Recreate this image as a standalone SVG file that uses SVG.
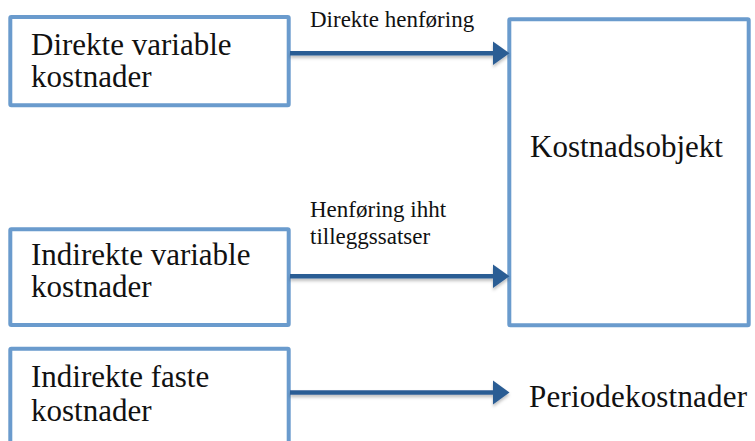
<svg xmlns="http://www.w3.org/2000/svg" width="755" height="441" viewBox="0 0 755 441">
  <style>
    .box { fill: #ffffff; stroke: #6a9bcd; stroke-width: 4; }
    .big { font-family: "Liberation Serif", "DejaVu Serif", serif; font-size: 31px; fill: #111111; }
    .small { font-family: "Liberation Serif", "DejaVu Serif", serif; font-size: 23px; fill: #111111; }
    .link { stroke: #2c5d94; stroke-width: 4.5; fill: none; }
    .head { fill: #2c5d94; }
  </style>
  <defs>
    <filter id="soft" x="-5%" y="-50%" width="110%" height="200%">
      <feDropShadow dx="0" dy="2.5" stdDeviation="1.5" flood-color="#000000" flood-opacity="0.25"/>
    </filter>
  </defs>
  <rect width="755" height="441" fill="#ffffff"/>

  <g id="direkte-variable">
    <rect class="box" x="10.3" y="17" width="278.4" height="88.3" rx="1"/>
    <text class="big" x="31" y="54.5">Direkte variable</text>
    <text class="big" x="31" y="86.5">kostnader</text>
  </g>

  <g id="indirekte-variable">
    <rect class="box" x="10.3" y="229.3" width="278.4" height="95.7" rx="1"/>
    <text class="big" x="31" y="265">Indirekte variable</text>
    <text class="big" x="31" y="297">kostnader</text>
  </g>

  <g id="indirekte-faste">
    <rect class="box" x="10.3" y="348.7" width="278.4" height="120" rx="1"/>
    <text class="big" x="31" y="387">Indirekte faste</text>
    <text class="big" x="31" y="421">kostnader</text>
  </g>

  <g id="kostnadsobjekt">
    <rect class="box" x="509.3" y="19.3" width="239.4" height="306" rx="1"/>
    <text class="big" x="530" y="157">Kostnadsobjekt</text>
  </g>

  <g id="periodekostnader">
    <text class="big" x="529" y="407" textLength="218" lengthAdjust="spacing">Periodekostnader</text>
  </g>

  <g id="connectors" filter="url(#soft)">
    <line class="link" x1="290" y1="53.3" x2="495" y2="53.3"/>
    <polygon class="head" points="493,41.5 509.5,53.3 493,65.1"/>
    <line class="link" x1="290" y1="276.3" x2="495" y2="276.3"/>
    <polygon class="head" points="493,264.5 509.5,276.3 493,288.1"/>
    <line class="link" x1="290" y1="392.5" x2="495" y2="392.5"/>
    <polygon class="head" points="493,380.5 509.5,392.5 493,404.5"/>
  </g>

  <g id="labels">
    <text class="small" x="310" y="27">Direkte henføring</text>
    <text class="small" x="310" y="217">Henføring ihht</text>
    <text class="small" x="310" y="244">tilleggssatser</text>
  </g>
</svg>
